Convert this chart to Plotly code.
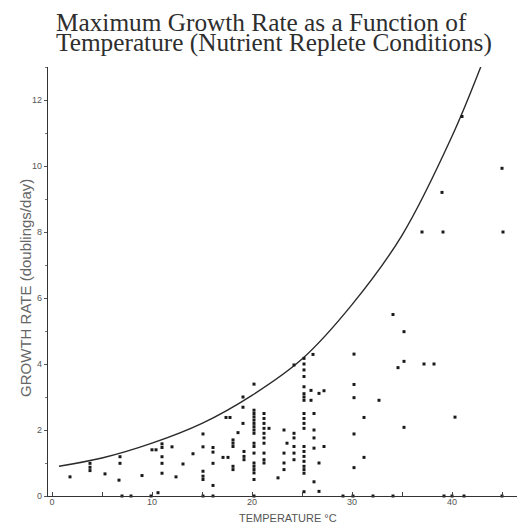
import plotly.graph_objects as go

# Observations: temperature (deg C) and growth rate (doublings/day)
temps = [
    1.8, 3.8, 3.8, 3.8, 5.3, 6.8, 6.8, 6.7, 9.0, 10.0, 10.4,
    11, 11, 11, 11, 11, 12, 12.4, 13.1, 14.1,
    15.1, 15.1, 15.1, 15.1, 15.1, 16.1, 16.1, 16.1, 16.1,
    17.1, 17.6, 17.4, 17.8, 18.1, 18.1, 18.1, 18.1, 18.1, 18.6,
    19.1, 19.1, 19.1, 19.2, 19.2, 19.2,
    20.2, 20.2, 20.2, 20.2, 20.2, 20.2, 20.2, 20.2, 20.2, 20.2, 20.2, 20.2, 20.2, 20.2, 20.2, 20.2, 20.2,
    21.2, 21.2, 21.2, 21.2, 21.2, 21.2, 21.2, 21.2, 21.2, 21.2, 21.7, 22.6,
    23.2, 23.2, 23.2, 23.2, 23.5, 24.2, 24.2, 24.2, 24.2, 24.2, 24.2,
    25.2, 25.2, 25.2, 25.2, 25.2, 25.2, 25.2, 25.2, 25.2, 25.2, 25.2, 25.2, 25.2, 25.2, 25.2, 25.2, 25.2, 25.2, 25.2, 25.2,
    26.1, 25.9, 25.9, 26.2, 26.2, 26.2, 26.2, 26.2, 26.7, 26.7, 26.7, 27.2, 27.2,
    30.2, 30.2, 30.2, 30.2, 30.2, 31.2, 31.2, 32.7, 34.1, 35.2, 35.2, 35.2, 34.6,
    37.2, 38.2, 40.3, 37.0, 39.1, 45.1, 39.0, 45.0, 41.0,
    7.0, 7.9, 9.9, 10.6, 15.1, 16.1, 20.2, 29.1, 30.1, 32.1, 34.1, 39.2, 40.0, 41.2, 45.0,
]
rates = [
    0.58, 0.99, 0.87, 0.77, 0.67, 1.19, 0.99, 0.48, 0.62, 1.40, 1.40,
    1.58, 1.47, 1.19, 0.99, 0.69, 1.49, 0.58, 0.97, 1.28,
    1.88, 1.49, 0.75, 0.60, 0.50, 1.47, 1.33, 0.99, 0.32,
    1.17, 1.17, 2.38, 2.38, 1.70, 1.60, 1.50, 0.90, 0.80, 1.92,
    3.00, 2.69, 2.20, 1.20, 1.10, 1.35,
    3.39, 2.60, 2.50, 2.40, 2.30, 2.20, 2.10, 2.00, 1.90, 1.60, 1.50, 1.30, 1.00, 0.90, 0.80, 0.70, 0.50,
    2.50, 2.35, 2.20, 2.05, 1.90, 1.76, 1.60, 1.30, 1.10, 1.00, 2.05, 0.55,
    2.00, 1.30, 1.00, 0.80, 1.60, 3.97, 1.90, 1.76, 1.50, 1.30, 1.10,
    4.17, 4.00, 3.82, 3.62, 3.31, 3.10, 3.00, 2.90, 2.50, 2.35, 2.20, 2.05, 1.50, 1.35, 1.20, 1.05, 0.90, 0.80, 0.69, 0.13,
    4.29, 3.20, 2.90, 2.50, 2.00, 1.76, 1.45, 0.43, 3.11, 1.00, 0.14, 3.19, 1.50,
    4.30, 3.38, 2.98, 1.88, 0.86, 2.38, 1.17, 2.90, 5.50, 4.98, 4.08, 2.08, 3.89,
    4.00, 4.00, 2.39, 8.00, 8.00, 8.00, 9.20, 9.93, 11.50,
    0, 0, 0, 0.1, 0, 0, 0, 0, 0, 0, 0, 0, 0, 0, 0,
]

# Upper envelope curve
curve_temps = [0.7, 5, 10, 15, 20, 25, 30, 35, 40, 43]
curve_rates = [0.90, 1.15, 1.60, 2.20, 3.05, 4.15, 5.80, 7.90, 10.90, 13.10]

x_ticks = [0, 10, 20, 30, 40]
y_ticks = [0, 2, 4, 6, 8, 10, 12]

title_lines = ["Maximum Growth Rate as a Function of",
               "Temperature (Nutrient Replete Conditions)"]

fig = go.Figure()
fig.add_trace(go.Scatter(
    x=curve_temps, y=curve_rates, mode="lines",
    line=dict(color="#2a2a2a", width=1.4, shape="spline", smoothing=1.0),
    hoverinfo="skip", showlegend=False,
))
fig.add_trace(go.Scatter(
    x=temps, y=rates, mode="markers",
    marker=dict(symbol="square", size=3, color="#1a1a1a"),
    showlegend=False, cliponaxis=False,
))

axis_font = dict(family="Liberation Sans, Arial, sans-serif", size=9, color="#555")
fig.update_xaxes(
    range=[-0.4, 46.5], showgrid=False, zeroline=False,
    showline=True, linecolor="#333", linewidth=1.3,
    tickmode="array", tickvals=x_ticks, ticktext=[str(v) for v in x_ticks],
    ticks="inside", ticklen=4, tickcolor="#444",
    minor=dict(dtick=5, tick0=0, ticks="inside", ticklen=4, tickcolor="#444"),
    tickfont=axis_font, ticklabelstandoff=-3,
)
fig.update_yaxes(
    range=[0, 13], showgrid=False, zeroline=False,
    showline=True, linecolor="#333", linewidth=1.3,
    tickmode="array", tickvals=y_ticks, ticktext=[str(v) for v in y_ticks],
    ticks="outside", ticklen=3, tickcolor="#555",
    minor=dict(dtick=1, tick0=0, ticks="outside", ticklen=2, tickcolor="#777"),
    tickfont=axis_font,
)

title_font = dict(family="Liberation Serif, Times New Roman, serif", size=25.3, color="#2e2e2e")
fig.update_layout(
    width=520, height=527,
    margin=dict(l=48, r=3, t=67, b=31),
    paper_bgcolor="white", plot_bgcolor="white",
    annotations=[
        dict(text=title_lines[0], xref="paper", yref="paper", x=0.0128, y=1.106,
             xanchor="left", yanchor="middle", showarrow=False, font=title_font),
        dict(text=title_lines[1], xref="paper", yref="paper", x=0.0128, y=1.056,
             xanchor="left", yanchor="middle", showarrow=False, font=title_font),
        dict(text="TEMPERATURE °C", xref="paper", yref="paper", x=0.512, y=-0.051,
             xanchor="center", yanchor="middle", showarrow=False,
             font=dict(family="Liberation Sans, Arial, sans-serif", size=11, color="#555")),
        dict(text="GROWTH RATE (doublings/day)", xref="paper", yref="paper", x=-0.047, y=0.485,
             xanchor="center", yanchor="middle", textangle=-90, showarrow=False,
             font=dict(family="Liberation Sans, Arial, sans-serif", size=15, color="#666")),
    ],
)

fig.write_html("out.html", config={"displayModeBar": False},
               post_script="document.body.style.margin='0';")
